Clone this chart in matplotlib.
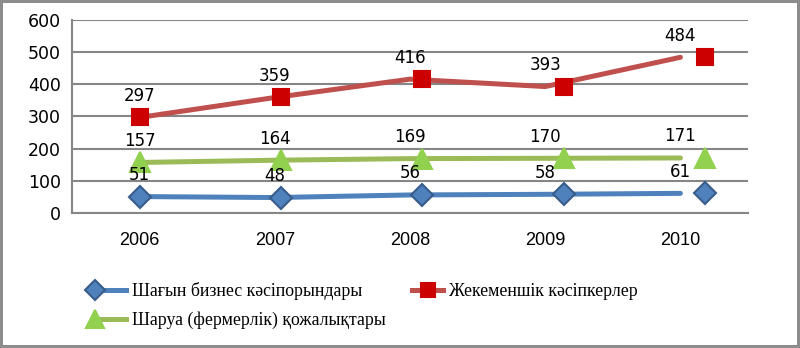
import matplotlib
matplotlib.use("Agg")
import matplotlib.pyplot as plt
from matplotlib.legend_handler import HandlerLine2D
from matplotlib.lines import Line2D
import numpy as np

years = ["2006", "2007", "2008", "2009", "2010"]
small_business = [51, 48, 56, 58, 61]
private_entrepreneurs = [297, 359, 416, 393, 484]
farms = [157, 164, 169, 170, 171]

labels = [
    "Шағын бизнес кәсіпорындары",
    "Жекеменшік кәсіпкерлер",
    "Шаруа (фермерлік) қожалықтары",
]

GRID = "#868686"


class LeftMarkerHandler(HandlerLine2D):
    # put the legend marker at the left end of the line sample
    def create_artists(self, legend, orig_handle, xdescent, ydescent,
                       width, height, fontsize, trans):
        artists = super().create_artists(legend, orig_handle, xdescent, ydescent,
                                         width, height, fontsize, trans)
        for a in artists:
            a.set_markevery([0])
        return artists


fig = plt.figure(figsize=(8, 3.48), dpi=100)
fig.patch.set_edgecolor("#8c8c8c")
fig.patch.set_linewidth(3)
ax = fig.add_axes([0.09, 0.388, 0.845, 0.5546])

x = np.arange(len(years))
# Excel draws the markers slightly stretched along x relative to the line
marker_x = x * 1.046

series = [
    (small_business, "#4F81BD", "D", "#4F81BD", "#385D8A", 11.5),
    (private_entrepreneurs, "#C0504D", "s", "#CC0000", "#CC0000", 12),
    (farms, "#9BBB59", "^", "#92D050", "#92D050", 15),
]

handles = []
for (vals, lc, mk, mfc, mec, ms), lab in zip(series, labels):
    ax.plot(x, vals, color=lc, lw=3.6, solid_capstyle="round", zorder=3)
    ax.plot(marker_x, vals, ls="none", marker=mk, ms=ms, mfc=mfc, mec=mec,
            mew=1.5, zorder=4)
    for xi, v in zip(x, vals):
        ax.annotate(str(v), (xi, v), xytext=(0, 15.5), textcoords="offset points",
                    ha="center", va="center", fontsize=12,
                    family="DejaVu Sans", zorder=5)
    handles.append(Line2D([], [], color=lc, lw=3.6, marker=mk, ms=ms * 0.85,
                          mfc=mfc, mec=mec, mew=1.5, label=lab))

ax.set_xlim(-0.5, 4.5)
ax.set_ylim(0, 600)
ax.set_yticks(range(0, 601, 100))
ax.set_xticks(x)
ax.set_xticklabels(years, family="Liberation Sans", fontsize=13)
ax.tick_params(axis="x", length=0, pad=14)
ax.tick_params(axis="y", length=0, pad=8, labelsize=12.5)
for t in ax.get_yticklabels():
    t.set_family("DejaVu Sans")

ax.grid(axis="y", color=GRID, lw=1.5, zorder=1)
ax.set_axisbelow(True)
for side in ["top", "right"]:
    ax.spines[side].set_visible(False)
for side in ["left", "bottom"]:
    ax.spines[side].set_color(GRID)
    ax.spines[side].set_linewidth(1.5)

# legend order: blue, green in first column, red in second
order = [0, 2, 1]
left = LeftMarkerHandler()
fig.legend(
    handles=[handles[i] for i in order],
    loc="upper left",
    bbox_to_anchor=(0.108, 0.215),
    ncol=2,
    frameon=False,
    prop={"family": "Liberation Serif", "size": 12.8},
    handlelength=1.75,
    handletextpad=0.3,
    labelspacing=0.65,
    columnspacing=1.5,
    borderpad=0,
    numpoints=1,
    handler_map={handles[0]: left, handles[2]: left},
)

fig.savefig("out.png", dpi=100)
